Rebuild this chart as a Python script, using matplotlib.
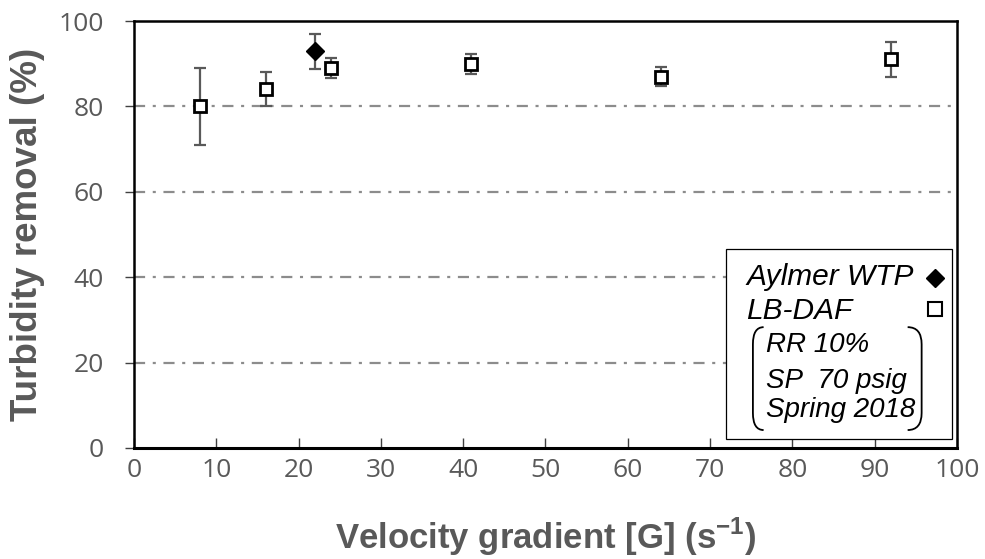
import numpy as np
import matplotlib
matplotlib.use("Agg")
import matplotlib.pyplot as plt
from matplotlib.patches import Rectangle, PathPatch
from matplotlib.path import Path

# data
daf_g = [8, 16, 24, 41, 64, 92]
daf_removal = [80, 84, 89, 90, 87, 91]
daf_low = [71, 80, 86.7, 87.6, 84.8, 87.0]
daf_high = [89, 88, 91.3, 92.3, 89.3, 95.0]

wtp_g = [22]
wtp_removal = [93]
wtp_low = [88.8]
wtp_high = [96.9]

x_ticks = [0, 10, 20, 30, 40, 50, 60, 70, 80, 90, 100]
y_ticks = [0, 20, 40, 60, 80, 100]

gray = "#595959"
plt.rcParams['lines.scale_dashes'] = False
plt.rcParams['mathtext.fontset'] = 'custom'
plt.rcParams['mathtext.rm'] = 'Liberation Sans:bold'
plt.rcParams['mathtext.bf'] = 'Liberation Sans:bold'

fig = plt.figure(figsize=(9.85, 5.59), dpi=100)
ax = fig.add_axes([0.136, 0.1986, 0.8356, 0.7638])

# dash-dot gridlines
for yv in y_ticks[1:-1]:
    ax.axhline(yv, color="#8c8c8c", lw=1.6, dashes=(8, 5.5, 2.2, 5.5), zorder=1)

def err(y, lo, hi):
    y = np.array(y); return [y - np.array(lo), np.array(hi) - y]

ax.errorbar(daf_g, daf_removal, yerr=err(daf_removal, daf_low, daf_high), fmt='none',
            ecolor=gray, elinewidth=1.6, capsize=4.5, capthick=1.6, zorder=2)
ax.errorbar(wtp_g, wtp_removal, yerr=err(wtp_removal, wtp_low, wtp_high), fmt='none',
            ecolor=gray, elinewidth=1.6, capsize=4.5, capthick=1.6, zorder=2)
ax.plot(daf_g, daf_removal, 's', ms=8.5, mfc='white', mec='black', mew=2, zorder=3)
ax.plot(wtp_g, wtp_removal, 'D', ms=9, color='black', zorder=3)

ax.set_xlim(0, 100)
ax.set_ylim(0, 100)
ax.set_xticks(x_ticks)
ax.set_yticks(y_ticks)
for s in ax.spines.values():
    s.set_linewidth(1.8)
    s.set_color('black')
ax.spines['bottom'].set_linewidth(2.2)

tickfont = dict(family='Open Sans', size=19)
ax.set_xticklabels([str(v) for v in x_ticks], fontdict=tickfont, color=gray)
ax.set_yticklabels([str(v) for v in y_ticks], fontdict=tickfont, color=gray)
ax.tick_params(axis='x', direction='in', length=7, width=1, color='#404040', pad=7)
ax.tick_params(axis='y', direction='out', length=6.5, width=1, color='#404040', pad=15)

ax.set_xlabel("Velocity gradient [G] (s$^{-1}$)", family='Liberation Sans', size=25,
              weight='bold', color=gray)
ax.set_ylabel("Turbidity removal (%)", family='Liberation Sans', size=26.5,
              weight='bold', color=gray)
ax.xaxis.set_label_coords(0.5, -0.16)
ax.yaxis.set_label_coords(-0.108, 0.5)

# legend box
tr = ax.transAxes
ax.add_patch(Rectangle((0.719, 0.021), 0.275, 0.444, transform=tr, fc='white',
                       ec='black', lw=0.9, zorder=5))
lf = dict(family='Liberation Sans', style='italic', size=21.5, color='black',
          transform=tr, zorder=6, va='baseline')
ax.text(0.744, 0.382, "Aylmer WTP", **lf)
ax.text(0.744, 0.302, "LB-DAF", **lf)
lf['size'] = 20
ax.text(0.768, 0.225, "RR 10%", **lf)
ax.text(0.768, 0.141, "SP  70 psig", **lf)
ax.text(0.768, 0.073, "Spring 2018", **lf)
ax.plot([0.973], [0.398], 'D', ms=9, color='black', transform=tr, zorder=6, clip_on=False)
ax.plot([0.973], [0.326], 's', ms=10, mfc='white', mec='black', mew=1.5, transform=tr,
        zorder=6, clip_on=False)

def bracket(x_spine, x_tip, top, bot):
    r = 0.04
    verts = [(x_tip, top), (x_spine, top), (x_spine, top - r), (x_spine, bot + r),
             (x_spine, bot), (x_tip, bot)]
    codes = [Path.MOVETO, Path.CURVE3, Path.CURVE3, Path.LINETO, Path.CURVE3, Path.CURVE3]
    ax.add_patch(PathPatch(Path(verts, codes), transform=tr, fill=False, ec='black',
                           lw=1.3, zorder=6))

bracket(0.752, 0.765, 0.283, 0.042)
bracket(0.957, 0.940, 0.283, 0.042)

fig.savefig("out.png", dpi=100)
